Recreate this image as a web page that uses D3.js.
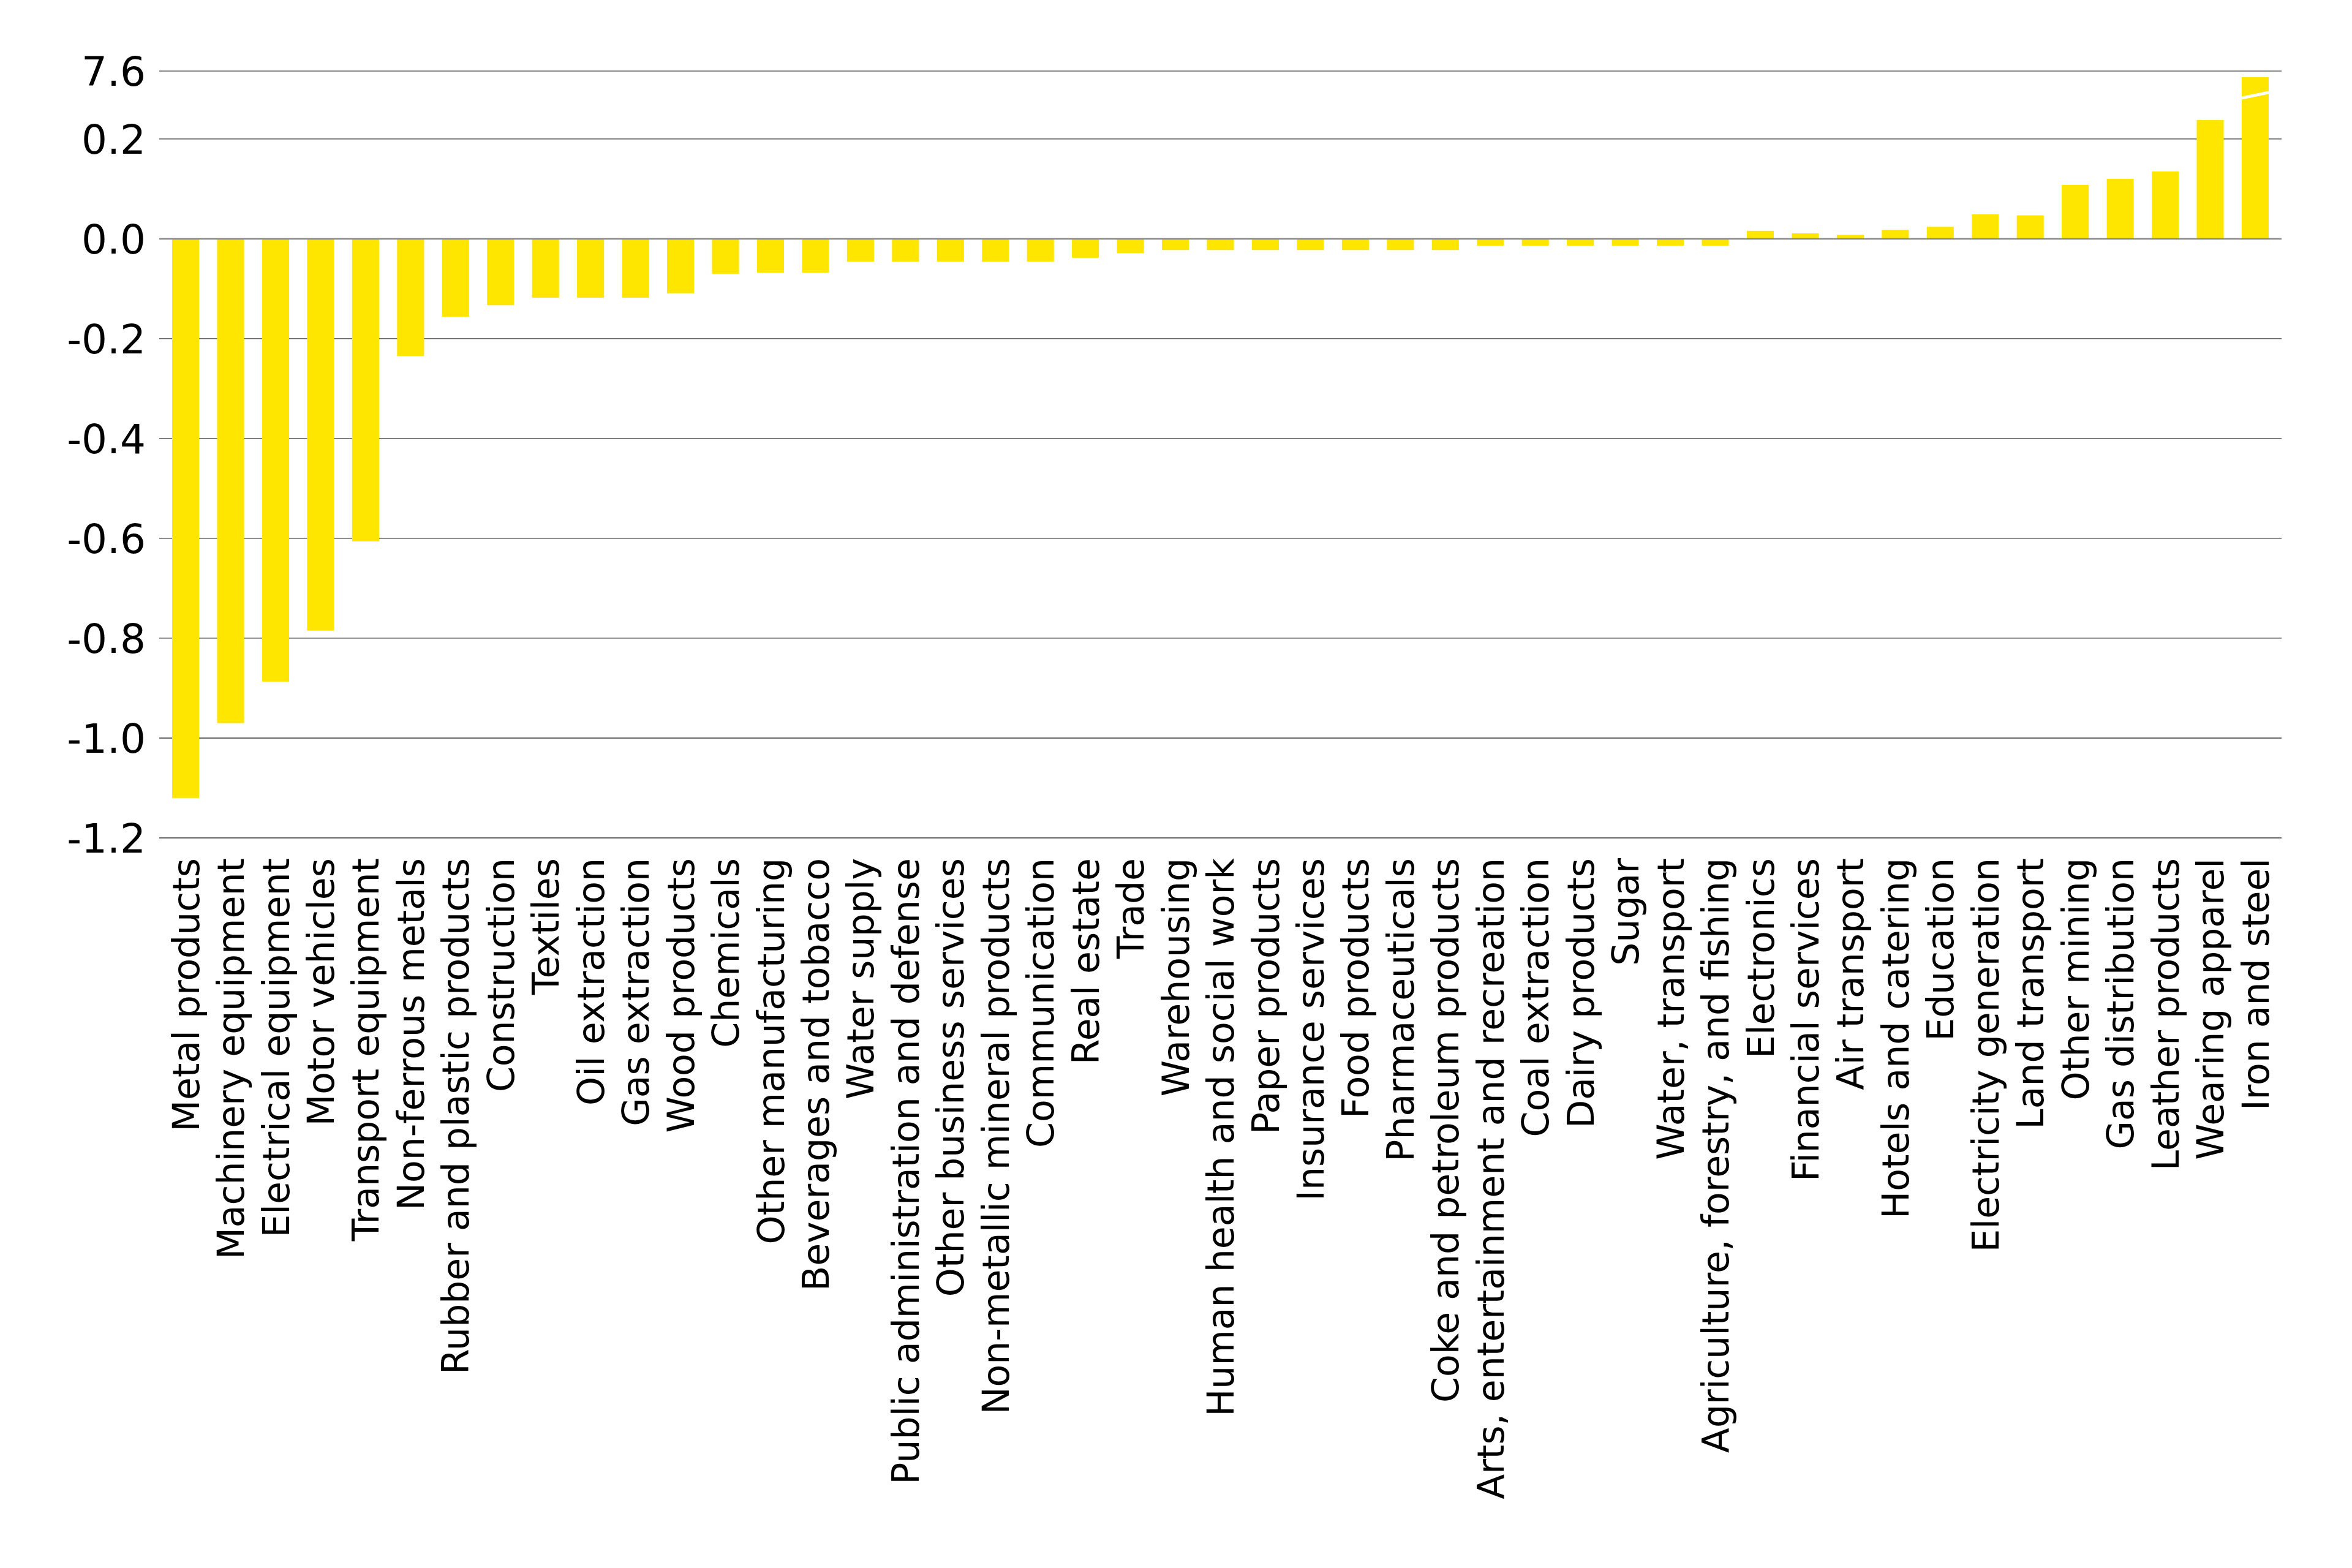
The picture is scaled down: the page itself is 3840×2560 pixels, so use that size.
<!DOCTYPE html>
<html>
<head>
<meta charset="utf-8">
<script src="https://cdn.jsdelivr.net/npm/d3@7"></script>
<style>
  html, body { margin: 0; padding: 0; background: #fff; }
  text { font-family: "DejaVu Sans", sans-serif; fill: #000; }
</style>
</head>
<body>
<svg id="chart" width="3840" height="2560"></svg>
<script>
// sectors, ordered as in the chart
var sectors = [
    "Metal products", "Machinery equipment", "Electrical equipment", "Motor vehicles",
    "Transport equipment", "Non-ferrous metals", "Rubber and plastic products", "Construction",
    "Textiles", "Oil extraction", "Gas extraction", "Wood products", "Chemicals",
    "Other manufacturing", "Beverages and tobacco", "Water supply",
    "Public administration and defense", "Other business services", "Non-metallic mineral products",
    "Communication", "Real estate", "Trade", "Warehousing", "Human health and social work",
    "Paper products", "Insurance services", "Food products", "Pharmaceuticals",
    "Coke and petroleum products", "Arts, entertainment and recreation", "Coal extraction",
    "Dairy products", "Sugar", "Water, transport", "Agriculture, forestry, and fishing",
    "Electronics", "Financial services", "Air transport", "Hotels and catering", "Education",
    "Electricity generation", "Land transport", "Other mining", "Gas distribution",
    "Leather products", "Wearing apparel", "Iron and steel"
];

// change per sector
var changes = [
    -1.12, -0.97, -0.887, -0.785,
    -0.606, -0.235, -0.156, -0.133,
    -0.118, -0.118, -0.118, -0.109, -0.07,
    -0.068, -0.068, -0.046,
    -0.046, -0.046, -0.046,
    -0.046, -0.038, -0.029, -0.0225, -0.0225,
    -0.0225, -0.0225, -0.0225, -0.0225,
    -0.0225, -0.014, -0.014,
    -0.014, -0.014, -0.014, -0.014,
    0.016, 0.011, 0.008, 0.018, 0.024,
    0.049, 0.047, 0.108, 0.12,
    0.135, 0.238, 7.6
];

var yTicks = [-1.2, -1.0, -0.8, -0.6, -0.4, -0.2, 0.0, 0.2];
var axisTop = 0.336;          // where the axis is cut off
var breakLabel = "7.6";       // label shown at the cut

var svg = d3.select("#chart");
var margin = {left: 260, right: 115, top: 116, bottom: 1192};
var width = 3840 - margin.left - margin.right;
var height = 2560 - margin.top - margin.bottom;

var g = svg.append("g")
    .attr("transform", "translate(" + margin.left + "," + margin.top + ")");

var x = d3.scaleBand()
    .domain(sectors)
    .range([0, width])
    .paddingInner(0.4)
    .paddingOuter(0.286);

var y = d3.scaleLinear()
    .domain([-1.2, axisTop])
    .range([height, 0]);

// gridlines
g.selectAll(".grid")
    .data(yTicks.filter(function (d) { return d !== 0; }))
    .enter()
    .append("line")
    .attr("class", "grid")
    .attr("x1", 0)
    .attr("x2", width)
    .attr("y1", function (d) { return y(d); })
    .attr("y2", function (d) { return y(d); })
    .attr("stroke", "#3a3a3a")
    .attr("stroke-width", 1.3);

// top line (axis break)
g.append("line")
    .attr("x1", 0).attr("x2", width)
    .attr("y1", y(axisTop)).attr("y2", y(axisTop))
    .attr("stroke", "#8a8a8a")
    .attr("stroke-width", 2);

// tick labels (plain hyphen for the minus sign, like the original)
var tickData = yTicks.map(function (d) { return {v: d, label: d.toFixed(1)}; });
tickData.push({v: axisTop, label: breakLabel});

g.selectAll(".tick-label")
    .data(tickData)
    .enter()
    .append("text")
    .attr("class", "tick-label")
    .attr("x", -22)
    .attr("y", function (d) { return y(d.v); })
    .attr("dy", "0.36em")
    .attr("text-anchor", "end")
    .style("font-size", "66px")
    .text(function (d) { return d.label; });

// bars
var data = sectors.map(function (s, i) { return {name: s, value: changes[i]}; });

function barTop(d) {
    if (d.value > axisTop) return y(axisTop) + 10;
    return y(Math.max(0, d.value));
}

g.selectAll(".bar")
    .data(data)
    .enter()
    .append("rect")
    .attr("class", "bar")
    .attr("x", function (d) { return x(d.name); })
    .attr("width", x.bandwidth())
    .attr("y", barTop)
    .attr("height", function (d) {
        return (d.value < 0 ? y(d.value) : y(0)) - barTop(d);
    })
    .attr("fill", "#ffe600");

// break mark on the clipped bar
g.selectAll(".break")
    .data(data.filter(function (d) { return d.value > axisTop; }))
    .enter()
    .append("polygon")
    .attr("class", "break")
    .attr("fill", "#fff")
    .attr("points", function (d) {
        var x0 = x(d.name) - 2, x1 = x(d.name) + x.bandwidth() + 2;
        var t = barTop(d);
        return [[x0, t + 32], [x1, t + 22], [x1, t + 27], [x0, t + 37]].join(" ");
    });

// zero line, over the bars
g.append("line")
    .attr("x1", 0).attr("x2", width)
    .attr("y1", y(0)).attr("y2", y(0))
    .attr("stroke", "#8a8a8a")
    .attr("stroke-width", 2.5);

// category labels, rotated
g.selectAll(".cat")
    .data(data)
    .enter()
    .append("text")
    .attr("class", "cat")
    .attr("transform", function (d) {
        return "translate(" + (x(d.name) + x.bandwidth() / 2) + "," + (height + 33) + ") rotate(-90)";
    })
    .attr("dy", "0.36em")
    .attr("text-anchor", "end")
    .style("font-size", "60px")
    .text(function (d) { return d.name; });
</script>
</body>
</html>
